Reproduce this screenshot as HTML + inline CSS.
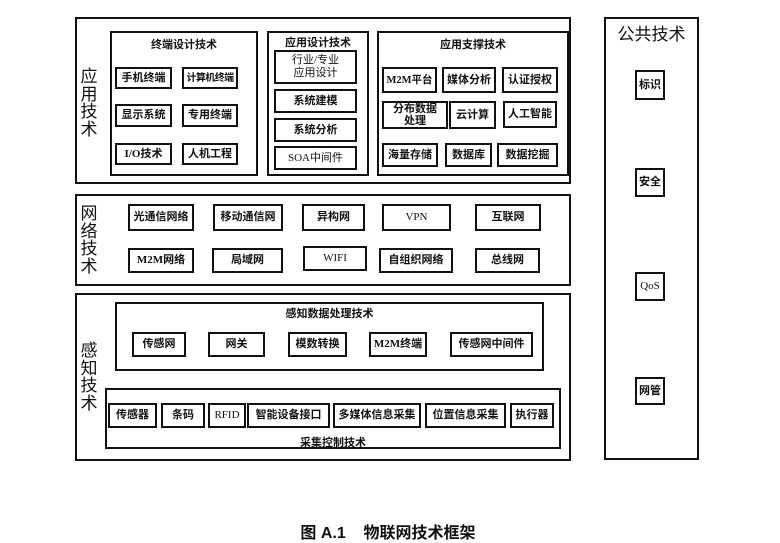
<!DOCTYPE html>
<html><head><meta charset="utf-8"><style>
html,body{margin:0;padding:0;background:#fff;}
body{width:780px;height:542px;position:relative;overflow:hidden;font-family:"Liberation Serif","Noto Serif CJK SC","Noto Sans CJK SC",serif;color:#111;}
.b{position:absolute;box-sizing:border-box;border:2px solid #111;}
.i{position:absolute;box-sizing:border-box;border:2px solid #111;display:flex;align-items:center;justify-content:center;text-align:center;font-size:11px;font-weight:bold;line-height:13px;font-family:"Liberation Serif","Noto Sans CJK SC",sans-serif;white-space:nowrap;}
.t{position:absolute;font-size:11px;font-weight:bold;text-align:center;font-family:"Liberation Serif","Noto Sans CJK SC",sans-serif;white-space:nowrap;}
.v{position:absolute;width:18px;font-size:17px;line-height:17.5px;text-align:center;font-family:"Liberation Sans","Noto Sans CJK SC",sans-serif;}
</style></head><body>
<!-- Application -->
<div class="b" style="left:75px;top:17px;width:496px;height:167px;"></div>
<div class="v" style="left:80px;top:68px;">应<br>用<br>技<br>术</div>
<div class="b" style="left:110px;top:31px;width:148px;height:145px;"></div>
<div class="t" style="left:110px;top:36px;width:148px;">终端设计技术</div>
<div class="i" style="left:115px;top:67px;width:57px;height:22px;">手机终端</div>
<div class="i" style="left:182px;top:67px;width:56px;height:22px;font-size:10px;letter-spacing:-0.6px;">计算机终端</div>
<div class="i" style="left:115px;top:104px;width:57px;height:23px;">显示系统</div>
<div class="i" style="left:182px;top:104px;width:56px;height:23px;">专用终端</div>
<div class="i" style="left:115px;top:143px;width:57px;height:22px;">I/O技术</div>
<div class="i" style="left:182px;top:143px;width:56px;height:22px;">人机工程</div>
<div class="b" style="left:267px;top:31px;width:102px;height:145px;"></div>
<div class="t" style="left:267px;top:34px;width:102px;">应用设计技术</div>
<div class="i" style="left:274px;top:50px;width:83px;height:34px;font-weight:normal;">行业/专业<br>应用设计</div>
<div class="i" style="left:274px;top:89px;width:83px;height:24px;">系统建模</div>
<div class="i" style="left:274px;top:118px;width:83px;height:24px;">系统分析</div>
<div class="i" style="left:274px;top:146px;width:83px;height:24px;font-weight:normal;">SOA中间件</div>
<div class="b" style="left:377px;top:31px;width:192px;height:145px;"></div>
<div class="t" style="left:377px;top:36px;width:192px;">应用支撑技术</div>
<div class="i" style="left:382px;top:67px;width:55px;height:26px;font-size:10.5px;">M2M平台</div>
<div class="i" style="left:442px;top:67px;width:54px;height:26px;">媒体分析</div>
<div class="i" style="left:502px;top:67px;width:56px;height:26px;">认证授权</div>
<div class="i" style="left:382px;top:101px;width:66px;height:28px;line-height:12px;">分布数据<br>处理</div>
<div class="i" style="left:449px;top:101px;width:47px;height:28px;">云计算</div>
<div class="i" style="left:503px;top:101px;width:54px;height:27px;">人工智能</div>
<div class="i" style="left:382px;top:143px;width:56px;height:24px;">海量存储</div>
<div class="i" style="left:445px;top:143px;width:47px;height:24px;">数据库</div>
<div class="i" style="left:497px;top:143px;width:61px;height:24px;">数据挖掘</div>
<!-- Network -->
<div class="b" style="left:75px;top:194px;width:496px;height:92px;"></div>
<div class="v" style="left:80px;top:205px;">网<br>络<br>技<br>术</div>
<div class="i" style="left:128px;top:204px;width:66px;height:27px;">光通信网络</div>
<div class="i" style="left:213px;top:204px;width:70px;height:27px;">移动通信网</div>
<div class="i" style="left:302px;top:204px;width:63px;height:27px;">异构网</div>
<div class="i" style="left:382px;top:204px;width:69px;height:27px;font-weight:normal;">VPN</div>
<div class="i" style="left:475px;top:204px;width:66px;height:27px;">互联网</div>
<div class="i" style="left:128px;top:248px;width:66px;height:25px;">M2M网络</div>
<div class="i" style="left:212px;top:248px;width:71px;height:25px;">局域网</div>
<div class="i" style="left:303px;top:246px;width:64px;height:25px;font-weight:normal;">WIFI</div>
<div class="i" style="left:379px;top:248px;width:74px;height:25px;">自组织网络</div>
<div class="i" style="left:475px;top:248px;width:65px;height:25px;">总线网</div>
<!-- Sensing -->
<div class="b" style="left:75px;top:293px;width:496px;height:168px;"></div>
<div class="v" style="left:80px;top:342px;">感<br>知<br>技<br>术</div>
<div class="b" style="left:115px;top:302px;width:429px;height:69px;"></div>
<div class="t" style="left:115px;top:305px;width:429px;">感知数据处理技术</div>
<div class="i" style="left:132px;top:332px;width:54px;height:25px;">传感网</div>
<div class="i" style="left:208px;top:332px;width:57px;height:25px;">网关</div>
<div class="i" style="left:288px;top:332px;width:59px;height:25px;">模数转换</div>
<div class="i" style="left:369px;top:332px;width:58px;height:25px;">M2M终端</div>
<div class="i" style="left:450px;top:332px;width:83px;height:25px;">传感网中间件</div>
<div class="b" style="left:105px;top:388px;width:456px;height:61px;"></div>
<div class="i" style="left:108px;top:403px;width:49px;height:25px;">传感器</div>
<div class="i" style="left:161px;top:403px;width:44px;height:25px;">条码</div>
<div class="i" style="left:208px;top:403px;width:38px;height:25px;font-weight:normal;">RFID</div>
<div class="i" style="left:247px;top:403px;width:83px;height:25px;">智能设备接口</div>
<div class="i" style="left:333px;top:403px;width:88px;height:25px;">多媒体信息采集</div>
<div class="i" style="left:425px;top:403px;width:81px;height:25px;">位置信息采集</div>
<div class="i" style="left:510px;top:403px;width:44px;height:25px;">执行器</div>
<div class="t" style="left:105px;top:434px;width:456px;">采集控制技术</div>
<!-- Public -->
<div class="b" style="left:604px;top:17px;width:95px;height:443px;"></div>
<div class="t" style="left:604px;top:20px;width:95px;font-size:17px;font-weight:normal;font-family:'Liberation Sans','Noto Sans CJK SC',sans-serif;">公共技术</div>
<div class="i" style="left:635px;top:70px;width:30px;height:30px;">标识</div>
<div class="i" style="left:635px;top:168px;width:30px;height:29px;">安全</div>
<div class="i" style="left:635px;top:272px;width:30px;height:29px;font-weight:normal;">QoS</div>
<div class="i" style="left:635px;top:377px;width:30px;height:28px;">网管</div>
<!-- Caption -->
<div class="t" style="left:270px;top:519px;width:236px;font-size:16px;font-family:'Liberation Sans','Noto Sans CJK SC',sans-serif;">图 A.1&nbsp;&nbsp;&nbsp;&nbsp;物联网技术框架</div>
</body></html>
